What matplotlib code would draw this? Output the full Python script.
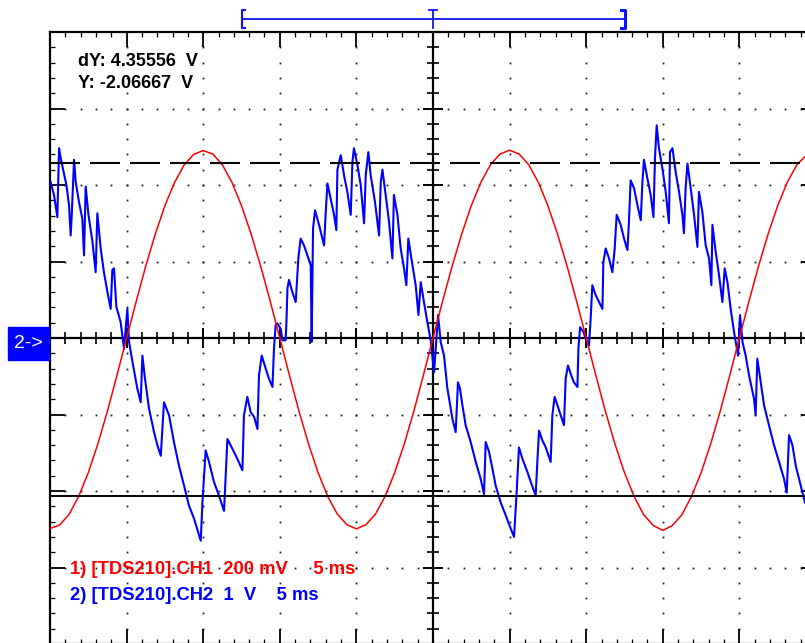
import numpy as np
import matplotlib
matplotlib.use("Agg")
from matplotlib import pyplot as plt
from matplotlib.patches import Rectangle

# scope settings: 5 ms/div, CH1 200 mV/div, CH2 1 V/div
ms_per_div = 5.0
ch1_mv_per_div = 200.0
ch2_v_per_div = 1.0

ch1_t = np.arange(80) * 0.625 - 25.0
ch1_mv = [-498, -489, -461, -414, -352, -277, -191, -97, 0, 95,
          188, 272, 346, 406, 452, 480, 490, 481, 453, 407,
          346, 272, 188, 96, 0, -97, -191, -277, -352, -414,
          -460, -488, -499, -488, -460, -414, -352, -277, -191, -97,
          0, 96, 188, 272, 346, 407, 453, 481, 491, 481,
          453, 407, 346, 272, 188, 96, 0, -97, -191, -277,
          -352, -414, -462, -490, -503, -490, -462, -414, -352, -277,
          -191, -97, 0, 96, 188, 272, 346, 407, 453, 478]

# CH2 (blue) vertices, time in ms, value in V
ch2_t = [-24.96, -24.74, -24.52, -24.41, -24.30, -24.09, -23.93, -23.76, -23.65, -23.58,
         -23.43, -23.32, -23.11, -22.89, -22.78, -22.67, -22.49, -22.23, -22.02, -21.91,
         -21.69, -21.48, -21.25, -21.04, -20.93, -20.82, -20.67, -20.39, -20.17, -19.95,
         -19.84, -19.62, -19.30, -19.08, -18.97, -18.80, -18.54, -18.21, -17.99, -17.77,
         -17.56, -17.23, -16.91, -16.58, -16.25, -15.93, -15.60, -15.16, -15.05, -14.84,
         -14.62, -14.30, -13.97, -13.64, -13.42, -13.09, -12.77, -12.44, -12.34, -12.12,
         -11.90, -11.68, -11.46, -11.36, -11.18, -10.92, -10.71, -10.48, -10.38, -10.27,
         -10.16, -9.94, -9.83, -9.62, -9.57, -9.50, -9.40, -9.18, -8.96, -8.79,
         -8.64, -8.42, -8.20, -7.98, -7.92, -7.83, -7.70, -7.44, -7.22, -7.11,
         -7.00, -6.89, -6.68, -6.46, -6.31, -6.24, -6.02, -5.81, -5.59, -5.37,
         -5.26, -5.16, -4.93, -4.72, -4.50, -4.39, -4.22, -4.07, -3.79, -3.52,
         -3.41, -3.30, -3.09, -2.87, -2.65, -2.55, -2.32, -2.11, -1.89, -1.74,
         -1.61, -1.34, -1.13, -0.95, -0.80, -0.59, -0.37, -0.15, 0.07, 0.33,
         0.50, 0.72, 0.94, 1.27, 1.48, 1.63, 1.76, 1.92, 2.13, 2.46,
         2.79, 3.11, 3.33, 3.44, 3.66, 3.88, 4.09, 4.42, 4.75, 5.07,
         5.29, 5.46, 5.61, 5.84, 6.16, 6.38, 6.70, 6.81, 6.92, 7.14,
         7.36, 7.68, 7.79, 7.94, 8.12, 8.34, 8.55, 8.66, 8.81, 8.99,
         9.20, 9.43, 9.49, 9.60, 9.82, 9.97, 10.18, 10.29, 10.40, 10.62,
         10.84, 11.06, 11.12, 11.27, 11.49, 11.71, 11.86, 11.99, 12.25, 12.47,
         12.69, 12.79, 12.90, 13.12, 13.34, 13.56, 13.67, 13.77, 13.99, 14.21,
         14.39, 14.49, 14.60, 14.75, 14.97, 15.19, 15.40, 15.47, 15.63, 15.84,
         16.06, 16.28, 16.38, 16.49, 16.61, 16.82, 17.04, 17.26, 17.36, 17.58,
         17.80, 18.02, 18.17, 18.24, 18.45, 18.67, 18.89, 19.04, 19.22, 19.43,
         19.65, 19.91, 20.04, 20.20, 20.41, 20.63, 20.95, 21.06, 21.17, 21.39,
         21.61, 21.93, 22.26, 22.59, 22.91, 23.09, 23.24, 23.46, 23.68, 23.89,
         24.11, 24.28]
ch2_v = [2.04, 1.87, 1.58, 2.48, 2.35, 2.15, 2.00, 1.74, 1.34, 1.61,
         2.33, 2.04, 1.78, 1.56, 1.08, 1.98, 1.61, 1.26, 0.86, 1.63,
         1.17, 0.86, 0.60, 0.38, 0.89, 0.91, 0.41, 0.21, -0.14, 0.38,
         -0.05, -0.31, -0.66, -0.84, -0.23, -0.53, -0.92, -1.23, -1.40, -1.54,
         -0.84, -1.01, -1.36, -1.67, -1.93, -2.19, -2.36, -2.65, -2.15, -1.47,
         -1.62, -1.88, -2.06, -2.26, -1.32, -1.45, -1.58, -1.73, -1.01, -0.77,
         -0.97, -1.03, -1.19, -0.49, -0.23, -0.40, -0.53, -0.64, -0.14, 0.17,
         0.19, 0.12, -0.03, -0.03, 0.19, 0.65, 0.76, 0.60, 0.47, 1.04,
         1.30, 1.21, 1.08, 0.95, -0.05, 1.43, 1.67, 1.48, 1.30, 1.21,
         1.65, 2.02, 1.82, 1.61, 1.41, 2.20, 2.39, 2.13, 1.91, 1.61,
         2.30, 2.48, 2.26, 2.00, 1.50, 2.13, 2.43, 2.13, 1.78, 1.34,
         2.04, 2.20, 1.87, 1.52, 1.04, 1.87, 1.61, 1.17, 0.91, 0.69,
         1.30, 0.95, 0.69, 0.30, 0.73, 0.47, 0.21, -0.03, -0.45, 0.30,
         -0.05, -0.23, -0.66, -1.06, -1.23, -0.58, -0.66, -0.88, -1.14, -1.36,
         -1.62, -1.84, -2.04, -1.36, -1.49, -1.71, -1.93, -2.15, -2.32, -2.49,
         -2.60, -2.02, -1.43, -1.58, -1.75, -1.88, -2.06, -1.62, -1.21, -1.34,
         -1.43, -1.62, -1.01, -0.77, -0.88, -1.01, -1.14, -0.53, -0.36, -0.47,
         -0.58, -0.64, -0.14, 0.14, 0.08, -0.01, -0.10, 0.25, 0.69, 0.56,
         0.47, 0.38, 0.99, 1.17, 1.04, 0.86, 1.17, 1.61, 1.48, 1.30,
         1.15, 1.52, 2.06, 1.96, 1.74, 1.54, 2.04, 2.33, 2.09, 1.87,
         1.58, 2.35, 2.78, 2.48, 2.22, 1.91, 1.50, 2.43, 2.48, 2.17,
         1.91, 1.61, 1.37, 1.96, 2.28, 1.96, 1.61, 1.19, 1.91, 1.65,
         1.21, 1.04, 0.69, 1.48, 1.13, 0.82, 0.47, 0.91, 0.73, 0.38,
         0.08, -0.23, 0.30, -0.05, -0.23, -0.49, -0.79, -1.01, -0.27, -0.58,
         -0.88, -1.14, -1.40, -1.62, -1.84, -2.02, -1.27, -1.40, -1.67, -1.84,
         -2.02, -2.15]

# cursor readout (CH2, volts)
cursor_dy = 4.35556
cursor_y = -2.06667

# time window marker above the screen (ms)
window_start = -12.5
window_end = 12.5


def main():
    plt.rcParams['font.family'] = ['Liberation Sans', 'DejaVu Sans']

    W, H = 805, 643
    fig = plt.figure(figsize=(W / 100, H / 100), dpi=100)
    ax = fig.add_axes([50 / W, -1 / H, 766 / W, 612 / H])
    ax.set_xlim(-5 * ms_per_div, 5 * ms_per_div)
    ax.set_ylim(-4, 4)

    for s in ax.spines.values():
        s.set_linewidth(1.6)
        s.set_color('black')

    ax.set_xticks(np.arange(-25, 26, 5))
    ax.set_xticks(np.arange(-25, 26, 1), minor=True)
    ax.set_yticks(np.arange(-4, 5, 1))
    ax.set_yticks(np.arange(-4, 4.01, 0.2), minor=True)
    ax.tick_params(which='both', direction='in', top=True, right=True,
                   labelbottom=False, labelleft=False, color='black')
    ax.tick_params(which='major', length=11, width=1.3)
    ax.tick_params(which='minor', length=3.8, width=0.9)

    # dotted graticule
    gx, gy = [], []
    for x in [-20, -15, -10, -5, 5, 10, 15, 20]:
        for y in np.arange(-4, 4.01, 0.2):
            gx.append(x)
            gy.append(y)
    for y in [-3, -2, -1, 1, 2, 3]:
        for x in np.arange(-25, 26, 1):
            gx.append(x)
            gy.append(y)
    ax.plot(gx, gy, linestyle='none', marker='s', ms=1.3, mew=0,
            color='#202020', zorder=1)

    # centre cross with ticks
    ax.axhline(0, color='black', lw=1.6, zorder=2)
    ax.axvline(0, color='black', lw=1.6, zorder=2)
    px_y = 76.4   # px per vertical div
    px_x = 15.32  # px per ms
    xt = np.arange(-25, 26, 1)
    major_x = xt % 5 == 0
    ax.vlines(xt[~major_x], -6 / px_y, 6 / px_y, color='black', lw=1.2, zorder=2)
    ax.vlines(xt[major_x], -10 / px_y, 10 / px_y, color='black', lw=1.4, zorder=2)
    yt = np.round(np.arange(-4, 4.01, 0.2), 2)
    major_y = np.isclose(yt, np.round(yt))
    ax.hlines(yt[~major_y], -6 / px_x, 6 / px_x, color='black', lw=1.2, zorder=2)
    ax.hlines(yt[major_y], -10 / px_x, 10 / px_x, color='black', lw=1.4, zorder=2)

    # traces
    ax.plot(ch2_t, np.array(ch2_v) / ch2_v_per_div, color='#0000ff', lw=1.5, zorder=3)
    ax.plot(ch1_t, np.array(ch1_mv) / ch1_mv_per_div, color='#ff0000', lw=1.1, zorder=4)

    # cursors
    ax.axhline((cursor_y + cursor_dy) / ch2_v_per_div, color='black', lw=1.5,
               dashes=(14.4, 4.8), zorder=5)
    ax.axhline(cursor_y / ch2_v_per_div, color='black', lw=1.4, zorder=5)

    # time window bracket above the screen
    bc = '#1010ff'
    yb, yt0, yt1 = 4.17, 4.29, 4.05
    ax.plot([window_start, window_end], [yb, yb], color=bc, lw=1.3, clip_on=False)
    ax.plot([window_start + 0.22, window_start, window_start, window_start + 0.22],
            [yt0, yt0, yt1, yt1], color=bc, lw=1.5, clip_on=False)
    ax.plot([window_end - 0.22, window_end, window_end, window_end - 0.22],
            [yt0, yt0, yt1, yt1], color=bc, lw=2.2, clip_on=False)
    ax.plot([-0.26, 0.26], [yt0, yt0], color=bc, lw=1.3, clip_on=False)
    ax.plot([0, 0], [yt0, yt1], color=bc, lw=1.3, clip_on=False)

    # channel 2 ground marker
    fig.patches.append(Rectangle((8 / W, 1 - 360 / H), 41 / W, 33 / H,
                                 transform=fig.transFigure, color='#0000ff'))
    fig.text(28.5 / W, 1 - 344 / H, '2->', color='white', fontsize=14,
             ha='center', va='center')

    # readouts
    fig.text(78 / W, 1 - 61 / H, f'dY: {cursor_dy:.5f}  V', fontsize=13,
             fontweight='bold', va='center')
    fig.text(78 / W, 1 - 84 / H, f'Y: {cursor_y:.5f}  V', fontsize=13,
             fontweight='bold', va='center')
    fig.text(70 / W, 1 - 570 / H, '1) [TDS210].CH1  200 mV     5 ms', fontsize=13.2,
             fontweight='bold', color='#ff0000', va='center')
    fig.text(70 / W, 1 - 595 / H, '2) [TDS210].CH2  1  V    5 ms', fontsize=13.2,
             fontweight='bold', color='#0000ff', va='center')

    fig.savefig('out.png', dpi=100)


if __name__ == "__main__":
    main()
